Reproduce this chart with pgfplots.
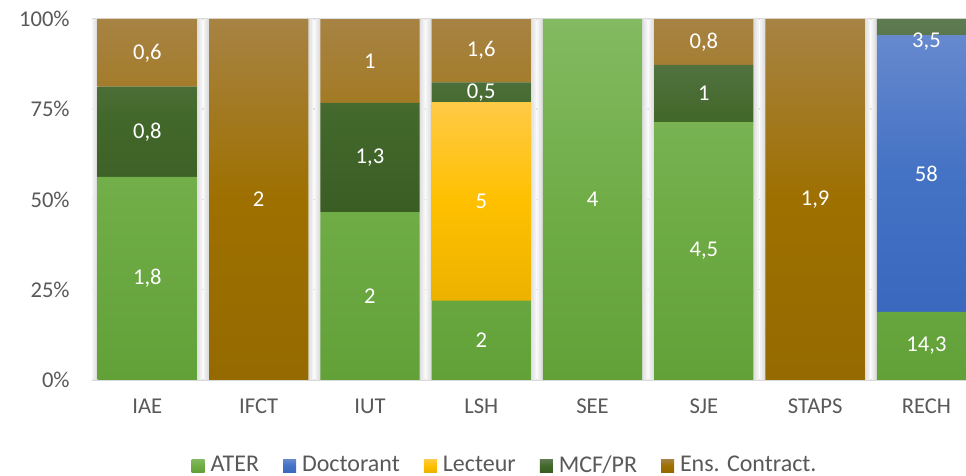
\documentclass[border=0pt]{standalone}
\usepackage{pgfplots}
\pgfplotsset{compat=1.18}
\usepackage{pgfplotstable}
\usepackage{fontspec}
\setmainfont{Carlito}

\newcommand\chartfont{\fontsize{11.3}{13.5}\selectfont}
\newcommand\legendfont{\fontsize{12}{14.4}\selectfont}

% segment gradients: light tint at the top, base colour, slightly darker at the bottom
\definecolor{aterT}{RGB}{131,186,98}
\definecolor{aterM}{RGB}{112,173,71}
\definecolor{aterB}{RGB}{98,160,56}
\definecolor{docT}{RGB}{102,137,206}
\definecolor{docM}{RGB}{68,114,196}
\definecolor{docB}{RGB}{58,104,190}
\definecolor{lecT}{RGB}{255,202,70}
\definecolor{lecM}{RGB}{255,192,0}
\definecolor{lecB}{RGB}{236,178,0}
\definecolor{mcfT}{RGB}{94,123,82}
\definecolor{mcfM}{RGB}{67,104,43}
\definecolor{mcfB}{RGB}{58,93,36}
\definecolor{ensT}{RGB}{167,131,68}
\definecolor{ensM}{RGB}{158,112,0}
\definecolor{ensB}{RGB}{149,106,0}
\definecolor{gridgray}{RGB}{217,217,217}
\definecolor{txtgray}{RGB}{89,89,89}

% staff per component (tot = sum of the row)
\pgfplotstableread{
x  lab    ATER  Doct  Lect  MCF  Ens  tot
0  IAE    1.8   0     0     0.8  0.6  3.2
1  IFCT   0     0     0     0    2    2
2  IUT    2     0     0     1.3  1    4.3
3  LSH    2     0     5     0.5  1.6  9.1
4  SEE    4     0     0     0    0    4
5  SJE    4.5   0     0     1    0.8  6.3
6  STAPS  0     0     0     0    1.9  1.9
7  RECH   14.3  58    0     3.5  0    75.8
}\effectifs

\pgfplotsset{
  frame/.style={
    scale only axis, width=445.2pt, height=180.5pt,
    at={(45.85pt,48pt)}, anchor=south west,
    xmin=-0.5, xmax=7.5, ymin=0, ymax=100,
  },
  seg/.style n args={3}{draw=none, top color=#1, bottom color=#3, middle color=#2},
  % labels sit in the middle of their segment, kept clear of the top edge
  lbl/.style={only marks, mark=none,
    point meta=explicit,
    y filter/.expression={min(y,93.6)},
    nodes near coords={\pgfmathfloatifflags{\pgfplotspointmeta}{0}{}{\pgfmathprintnumber{\pgfplotspointmeta}}},
    every node near coord/.append style={anchor=center, text=white, font=\chartfont},
  },
}

\begin{document}
\begin{tikzpicture}
\useasboundingbox (0,0) rectangle (483pt,238pt);
\clip (0,0) rectangle (483pt,238pt);

% grid, tick labels and the soft shadow behind each column
\begin{axis}[frame,
  axis line style={draw=none}, major tick length=0pt,
  ytick={0,25,50,75,100}, yticklabels={0\%,25\%,50\%,75\%,100\%},
  xtick={0,...,7}, xticklabels from table={\effectifs}{lab},
  ymajorgrids, grid style={gridgray, line width=0.75pt},
  tick label style={font=\chartfont, text=txtgray},
  yticklabel style={xshift=-7.5pt},
  xticklabel style={yshift=-6pt},
  ybar, bar shift=0pt,
]
\addplot[fill=black!5, draw=none, bar width=0.99] table[x=x, y expr=100] {\effectifs};
\addplot[fill=black!9, draw=none, bar width=0.955] table[x=x, y expr=100] {\effectifs};
\addplot[fill=black!13, draw=none, bar width=0.92] table[x=x, y expr=100] {\effectifs};
\end{axis}

% 100 % stacked columns
\begin{axis}[frame, hide axis,
  ybar stacked, bar width=0.892,
  legend columns=5,
  legend style={at={(0.4665,-0.237)}, anchor=center, draw=none, fill=none,
    font=\legendfont, text=txtgray,
    /tikz/every even column/.append style={column sep=9pt},
    nodes={inner xsep=3pt}},
  legend image code/.code={\path[#1] (0pt,-3.25pt) rectangle (6.5pt,3.25pt);},
]
\addplot[seg={aterT}{aterM}{aterB}] table[x=x, y expr=100*\thisrow{ATER}/\thisrow{tot}] {\effectifs};
\addplot[seg={docT}{docM}{docB}] table[x=x, y expr=100*\thisrow{Doct}/\thisrow{tot}] {\effectifs};
\addplot[seg={lecT}{lecM}{lecB}] table[x=x, y expr=100*\thisrow{Lect}/\thisrow{tot}] {\effectifs};
\addplot[seg={mcfT}{mcfM}{mcfB}] table[x=x, y expr=100*\thisrow{MCF}/\thisrow{tot}] {\effectifs};
\addplot[seg={ensT}{ensM}{ensB}] table[x=x, y expr=100*\thisrow{Ens}/\thisrow{tot}] {\effectifs};
\legend{ATER, Doctorant, Lecteur, MCF/PR, Ens. Contract.}
\end{axis}

% value labels centred in each segment
\begin{axis}[frame, hide axis,
  /pgf/number format/.cd, use comma, assume math mode=true]
\addplot[lbl] table[x=x, y expr=100*(\thisrow{ATER}/2)/\thisrow{tot}, meta=ATER] {\effectifs};
\addplot[lbl] table[x=x, y expr=100*(\thisrow{ATER}+\thisrow{Doct}/2)/\thisrow{tot}, meta=Doct] {\effectifs};
\addplot[lbl] table[x=x, y expr=100*(\thisrow{ATER}+\thisrow{Doct}+\thisrow{Lect}/2)/\thisrow{tot}, meta=Lect] {\effectifs};
\addplot[lbl] table[x=x, y expr=100*(\thisrow{ATER}+\thisrow{Doct}+\thisrow{Lect}+\thisrow{MCF}/2)/\thisrow{tot}, meta=MCF] {\effectifs};
\addplot[lbl] table[x=x, y expr=100*(\thisrow{tot}-\thisrow{Ens}/2)/\thisrow{tot}, meta=Ens] {\effectifs};
\end{axis}
\end{tikzpicture}
\end{document}
